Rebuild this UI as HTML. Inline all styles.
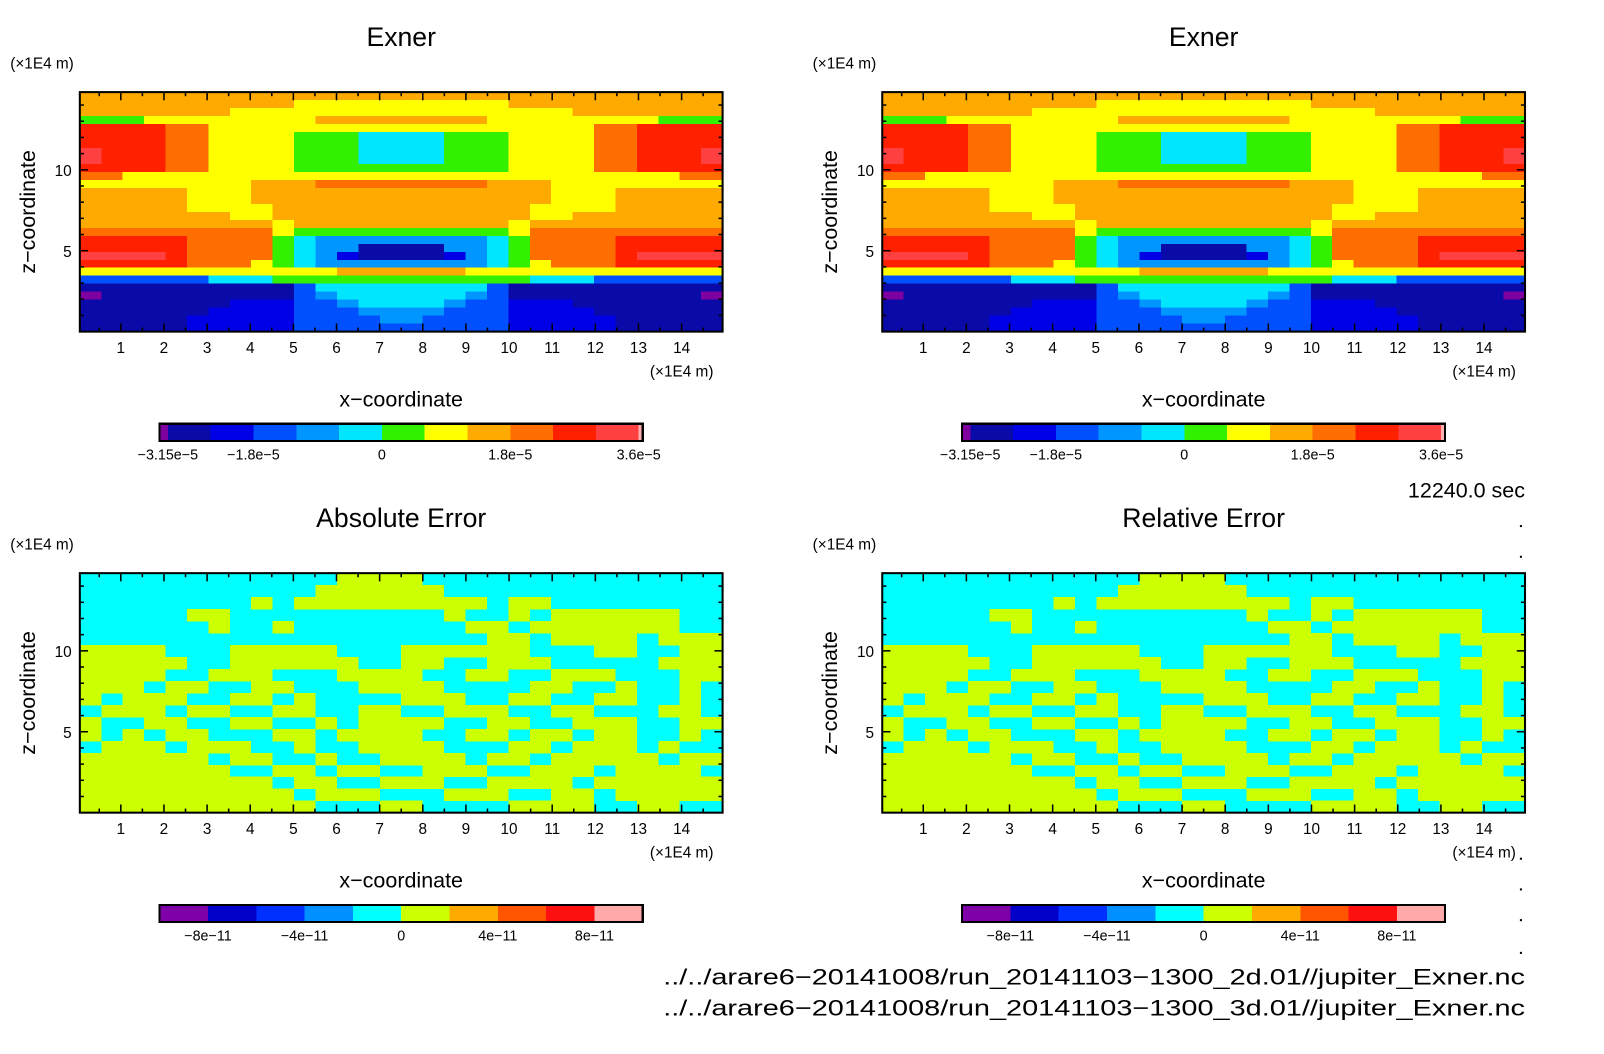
<!DOCTYPE html>
<html><head><meta charset="utf-8">
<style>
html,body{margin:0;padding:0;background:#fff;}
svg{display:block;font-family:"Liberation Sans",sans-serif;}
</style></head>
<body>
<svg id="fig" width="1604" height="1054" viewBox="0 0 1604 1054" xmlns="http://www.w3.org/2000/svg">
<rect x="0" y="0" width="1604" height="1054" fill="#fff"/>
<g id="root" transform="scale(1.0235)"></g>
</svg>
<script>
// ---- data ----
const exnerLevels = [
"888888888888888888888888888888",
"8888888888"+"7777777777"+"8888888888",
"8888888"+"7777777777777777"+"8888888",
"666"+"77777777"+"88888888"+"77777777"+"666",
"aaaa99"+"777777777777777777"+"99aaaa",
"aaaa99"+"7777"+"666"+"5555"+"666"+"7777"+"99aaaa",
"aaaa99"+"7777"+"666"+"5555"+"666"+"7777"+"99aaaa",
"baaa99"+"7777"+"666"+"5555"+"666"+"7777"+"99aaab",
"baaa99"+"7777"+"666"+"5555"+"666"+"7777"+"99aaab",
"aaaa99"+"7777"+"6666666666"+"7777"+"99aaaa",
"997777"+"777777777777777777"+"777799",
"77777777"+"888"+"99999999"+"888"+"77777777",
"88888"+"777"+"88888888888888"+"777"+"88888",
"88888"+"777"+"88888888888888"+"777"+"88888",
"88888"+"7777"+"888888888888"+"7777"+"88888",
"8888888"+"77"+"888888888888"+"77"+"8888888",
"888888888"+"7"+"8888888888"+"7"+"888888888",
"999999999"+"7"+"6666666666"+"7"+"999999999",
"aaaaa"+"9999"+"6"+"5"+"44444444"+"5"+"6"+"9999"+"aaaaa",
"aaaaa"+"9999"+"6"+"5"+"44"+"1111"+"44"+"5"+"6"+"9999"+"aaaaa",
"bbbba"+"9999"+"6"+"5"+"4"+"2"+"1111"+"2"+"4"+"5"+"6"+"9999"+"abbbb",
"aaaaa"+"999"+"7"+"6"+"5"+"44444444"+"5"+"6"+"7"+"999"+"aaaaa",
"777777777777"+"888888"+"777777777777",
"333333"+"555"+"666666666666"+"555"+"333333",
"1111111111"+"3"+"55555555"+"3"+"1111111111",
"0111111111"+"3"+"4"+"555555"+"4"+"3"+"1111111110",
"1111111"+"222"+"33"+"4"+"5555"+"4"+"33"+"222"+"1111111",
"111111"+"2222"+"333"+"4444"+"333"+"2222"+"111111",
"11111"+"22222"+"3333"+"44"+"3333"+"22222"+"11111",
"11111"+"22222"+"3333333333"+"22222"+"11111"
];
const exnerColors = ["#7f00a0","#0a0aa8","#0000e6","#0050ff","#0096ff","#00e6ff","#32f000","#ffff00","#ffaa00","#ff6e00","#ff2000","#ff4040","#ffb0b0"];
const exnerTickLabels = ["\u22123.15e\u22125","\u22121.8e\u22125","0","1.8e\u22125","3.6e\u22125"];
const exnerTickIdx = [1,3,6,9,12];
// error field: column ranges (of 30) that are positive error level
const errRanges = [
"12-15","11-16","8,10-18,20-21","5-6,17,20,22-27","6,9,18-19,21-27","19-20,22-25,27-29",
"0-3,7-11,15-20,24-25,28-29","0-4,7-12,15-16,19-21,27-29","0-3,6-8,12-15,18-19,22-24,28-29",
"0-2,4-5,8-9,13-16,21-22,25,28","0,2-4,7-8,10,15-17,20-21,24-25,28","1-3,5-6,9-10,13-14,17-19,22-23,27-28",
"0,3-4,7-8,11,13-16,19-20,23-25,28-29","0,2,4-5,9-10,12-15,18-19,21-22,24-25,28","1-3,5-7,10,13-16,20-21,23-25,27",
"0-5,7-8,11,14-17,19-20,22-26,28-29","0-6,9-10,12-13,16-18,21-23,25-28","0-8,10-11,14-16,19-22,24-29",
"0-9,11-13,17-19,22-23,25-29","0-10,14-15,20-23,26-27"
];
const errColors = ["#7f00a8","#0000c8","#0030ff","#0090ff","#00ffff","#ccff00","#ffaa00","#ff5500","#ff1010","#ffaaaa"];
const errTickLabels = ["\u22128e\u221211","\u22124e\u221211","0","4e\u221211","8e\u221211"];
const errTickIdx = [1,3,5,7,9];
const xTicks = [1,2,3,4,5,6,7,8,9,10,11,12,13,14];
const yTicks = [5,10];

// ---- drawing ----
const NS="http://www.w3.org/2000/svg";
const svg=document.getElementById('root');
function el(tag,attrs,parent){const e=document.createElementNS(NS,tag);for(const k in attrs)e.setAttribute(k,attrs[k]);(parent||svg).appendChild(e);return e;}
function txt(s,attrs,parent){const e=el('text',attrs,parent);e.textContent=s;return e;}

const X0=78,X1=706,XMIN=0.05,XMAX=14.95,ZMIN=0,ZMAX=14.8;
function panel(ox,oy,title,kind){
  const g=el('g',{});
  
  
  const top=90+oy,bot=324+oy,left=X0+ox,right=X1+ox;
  const xs=v=>left+(v-XMIN)/(XMAX-XMIN)*(right-left);
  const zs=v=>bot-(v-ZMIN)/(ZMAX-ZMIN)*(bot-top);
  const cg=el('g',{'shape-rendering':'crispEdges'},g);
  
  
  if(kind==='exner'){
    const nr=exnerLevels.length,nc=30,dx=(XMAX-XMIN)/nc,dz=(ZMAX-ZMIN)/nr;
    exnerLevels.forEach((row,r)=>{
      for(let c=0;c<nc;c++){
        const lv=parseInt(row[c],16);
        const x=xs(XMIN+c*dx),y=zs(ZMAX-r*dz);
        el('rect',{x:x,y:y,width:xs(XMIN+(c+1)*dx)-x+0.5,height:zs(ZMAX-(r+1)*dz)-y+0.5,fill:exnerColors[lv]},cg);
      }
    });
  } else {
    el('rect',{x:left,y:top,width:right-left,height:bot-top,fill:errColors[4]},cg);
    const nr=errRanges.length,nc=30,dx=(XMAX-XMIN)/nc,dz=(ZMAX-ZMIN)/nr;
    errRanges.forEach((spec,r)=>{
      spec.split(',').forEach(p=>{
        const ab=p.split('-').map(Number);const a=ab[0],b=ab.length>1?ab[1]:ab[0];
        const x=xs(XMIN+a*dx),y=zs(ZMAX-r*dz);
        el('rect',{x:x,y:y,width:xs(XMIN+(b+1)*dx)-x,height:zs(ZMAX-(r+1)*dz)-y+0.5,fill:errColors[5]},cg);
      });
    });
  }
  const fr=el('rect',{x:left,y:top,width:right-left,height:bot-top,fill:'none',stroke:'#000','stroke-width':2},g);
  
  
  for(let v=0.5;v<15;v+=0.5){
    const major=Math.abs(v-Math.round(v))<1e-6, L=major?8:4, x=xs(v);
    el('line',{x1:x,y1:bot,x2:x,y2:bot-L,stroke:'#000','stroke-width':1.5},g);
    el('line',{x1:x,y1:top,x2:x,y2:top+L,stroke:'#000','stroke-width':1.5},g);
  }
  for(let v=1;v<15;v+=1){
    const major=v%5===0,L=major?8:4,y=zs(v);
    el('line',{x1:left,y1:y,x2:left+L,y2:y,stroke:'#000','stroke-width':1.5},g);
    el('line',{x1:right,y1:y,x2:right-L,y2:y,stroke:'#000','stroke-width':1.5},g);
  }
  xTicks.forEach(v=>{const t=txt(String(v),{x:xs(v),y:bot+21,'font-size':15,'text-anchor':'middle'},g);
    });
  yTicks.forEach(v=>{const t=txt(String(v),{x:left-8,y:zs(v)+6,'font-size':15,'text-anchor':'end'},g);
    });
  let t;
  t=txt(title,{x:392+ox,y:45+oy,'font-size':26,'text-anchor':'middle'},g);
  
  t=txt('(\u00d71E4 m)',{x:10+ox,y:67+oy,'font-size':15},g);
  
  t=txt('(\u00d71E4 m)',{x:635+ox,y:368+oy,'font-size':15},g);
  
  t=txt('x\u2212coordinate',{x:392+ox,y:397+oy,'font-size':21,'text-anchor':'middle'},g);
  
  t=txt('z\u2212coordinate',{x:0,y:0,'font-size':21,'text-anchor':'middle',transform:`translate(${34+ox},${207+oy}) rotate(-90)`},g);
  
  const cb=el('g',{'shape-rendering':'crispEdges'},g);
  
  const cl=156+ox,cr=628+ox,ct=414+oy,ch=17;
  let bounds;
  if(kind==='exner'){
    const s=(cr-cl-12)/11;
    bounds=[cl,cl+8];for(let i=1;i<=11;i++)bounds.push(cl+8+i*s);bounds.push(cr);
    exnerColors.forEach((c,i)=>el('rect',{x:bounds[i],y:ct,width:bounds[i+1]-bounds[i]+0.5,height:ch,fill:c},cb));
    exnerTickLabels.forEach((s2,i)=>{const t2=txt(s2,{x:bounds[exnerTickIdx[i]],y:ct+35,'font-size':14,'text-anchor':'middle'},g);
      });
  } else {
    const s=(cr-cl)/10;bounds=[];for(let i=0;i<=10;i++)bounds.push(cl+i*s);
    errColors.forEach((c,i)=>el('rect',{x:bounds[i],y:ct,width:s+0.5,height:ch,fill:c},cb));
    errTickLabels.forEach((s2,i)=>{const t2=txt(s2,{x:bounds[errTickIdx[i]],y:ct+35,'font-size':14,'text-anchor':'middle'},g);
      });
  }
  el('rect',{x:cl,y:ct,width:cr-cl,height:ch,fill:'none',stroke:'#000','stroke-width':2},cb);
}
panel(0,0,'Exner','exner');
panel(784,0,'Exner','exner');
panel(0,470,'Absolute Error','err');
panel(784,470,'Relative Error','err');

let t=txt('12240.0 sec',{x:1490,y:486,'font-size':21,'text-anchor':'end'});

t=txt('../../arare6\u221220141008/run_20141103\u22121300_2d.01//jupiter_Exner.nc',{x:1490,y:962,'font-size':22,'text-anchor':'end',textLength:842,lengthAdjust:'spacingAndGlyphs'});

t=txt('../../arare6\u221220141008/run_20141103\u22121300_3d.01//jupiter_Exner.nc',{x:1490,y:992,'font-size':22,'text-anchor':'end',textLength:842,lengthAdjust:'spacingAndGlyphs'});

[513,543,838,868,898,930].forEach(y=>{const d=el('rect',{x:1485,y:y,width:2,height:2,fill:'#000'});
  });
</script>
</body></html>
